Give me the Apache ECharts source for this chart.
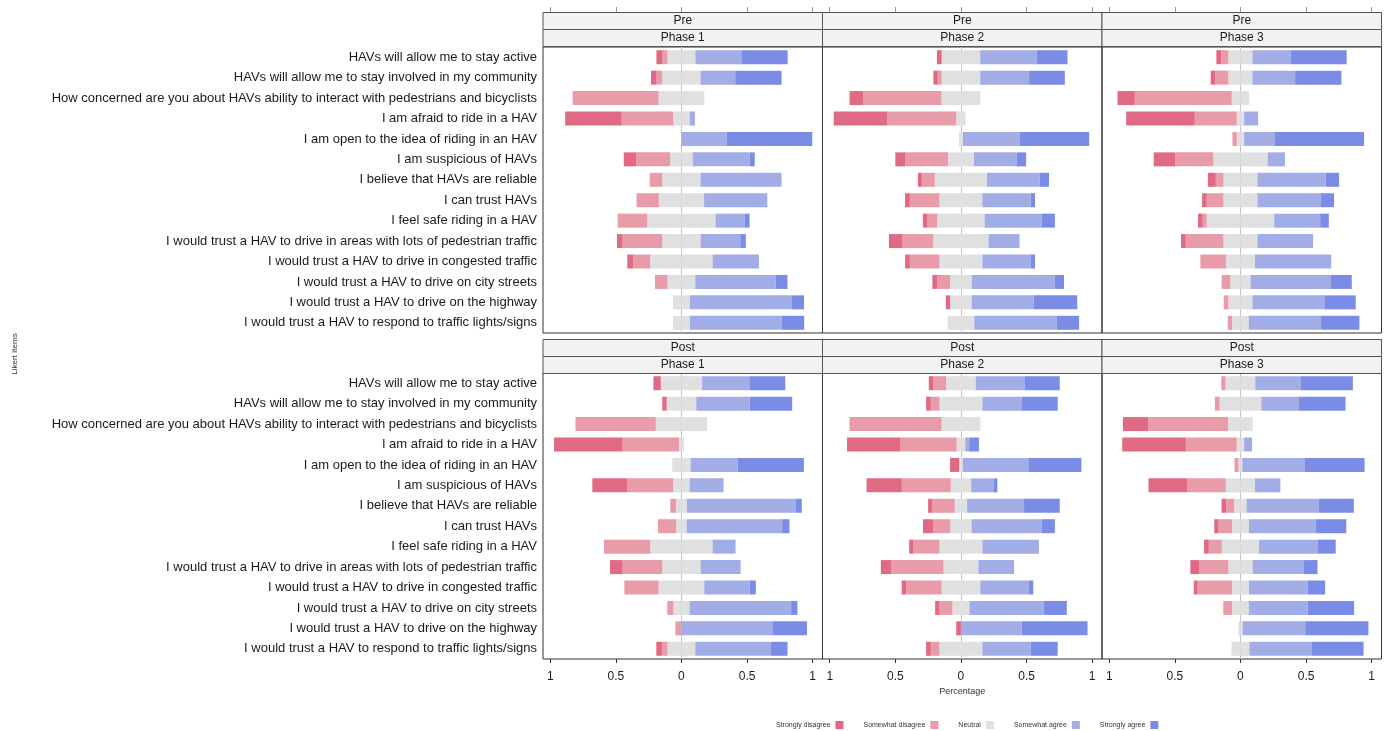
<!DOCTYPE html>
<html>
<head>
<meta charset="utf-8">
<script src="https://cdn.jsdelivr.net/npm/echarts@6/dist/echarts.min.js"></script>
<style>html,body{margin:0;padding:0;background:#fff;}#c{width:1392px;height:731px;}</style>
</head>
<body>
<div id="c"></div>
<script>
// Likert items (top to bottom)
const items = [
  "HAVs will allow me to stay active",
  "HAVs will allow me to stay involved in my community",
  "How concerned are you about HAVs ability to interact with pedestrians and bicyclists",
  "I am afraid to ride in a HAV",
  "I am open to the idea of riding in an HAV",
  "I am suspicious of HAVs",
  "I believe that HAVs are reliable",
  "I can trust HAVs",
  "I feel safe riding in a HAV",
  "I would trust a HAV to drive in areas with lots of pedestrian traffic",
  "I would trust a HAV to drive in congested traffic",
  "I would trust a HAV to drive on city streets",
  "I would trust a HAV to drive on the highway",
  "I would trust a HAV to respond to traffic lights/signs"
];
const levels = ["Strongly disagree", "Somewhat disagree", "Neutral", "Somewhat agree", "Strongly agree"];
const rowLabels = ["Pre", "Post"];
const colLabels = ["Phase 1", "Phase 2", "Phase 3"];
const tickValues = [-1, -0.5, 0, 0.5, 1];

// each row: [Strongly disagree, Somewhat disagree, Neutral, Somewhat agree, Strongly agree]
const prePhase1 = [
  [0.043,0.041,0.213,0.350,0.353],
  [0.043,0.043,0.292,0.264,0.353],
  [0,0.655,0.348,0,0],
  [0.431,0.393,0.124,0.041,0],
  [0,0,0,0.345,0.652],
  [0.094,0.259,0.173,0.434,0.038],
  [0,0.096,0.292,0.617,0],
  [0,0.170,0.345,0.482,0],
  [0,0.226,0.520,0.221,0.038],
  [0.043,0.302,0.292,0.302,0.043],
  [0.046,0.129,0.475,0.353,0],
  [0,0.096,0.211,0.612,0.091],
  [0,0,0.129,0.774,0.096],
  [0,0,0.129,0.698,0.173]
];
const prePhase2 = [
  [0.036,0,0.294,0.431,0.234],
  [0.033,0.030,0.294,0.373,0.272],
  [0.104,0.596,0.297,0,0],
  [0.406,0.528,0.071,0,0],
  [0,0,0.030,0.434,0.528],
  [0.074,0.327,0.198,0.327,0.071],
  [0.030,0.099,0.398,0.401,0.071],
  [0.036,0.226,0.327,0.368,0.033],
  [0.036,0.074,0.360,0.434,0.102],
  [0.104,0.234,0.421,0.236,0],
  [0.036,0.226,0.327,0.368,0.033],
  [0.036,0.099,0.165,0.632,0.071],
  [0.033,0,0.165,0.472,0.332],
  [0,0,0.203,0.629,0.170]
];
const prePhase3 = [
  [0.036,0.056,0.183,0.294,0.424],
  [0.036,0.099,0.183,0.325,0.353],
  [0.132,0.739,0.132,0,0],
  [0.523,0.320,0.056,0.107,0],
  [0,0.033,0.056,0.231,0.683],
  [0.165,0.289,0.414,0.132,0],
  [0.061,0.058,0.259,0.520,0.102],
  [0.036,0.127,0.259,0.480,0.104],
  [0.036,0.030,0.515,0.350,0.066],
  [0.036,0.287,0.259,0.424,0],
  [0,0.195,0.221,0.581,0],
  [0,0.066,0.155,0.609,0.162],
  [0,0.036,0.183,0.553,0.234],
  [0,0.033,0.127,0.551,0.292]
];
const postPhase1 = [
  [0.056,0,0.315,0.360,0.274],
  [0.033,0,0.226,0.406,0.325],
  [0,0.612,0.391,0,0],
  [0.523,0.429,0.038,0,0],
  [0,0,0.140,0.358,0.505],
  [0.264,0.353,0.124,0.259,0],
  [0,0.043,0.084,0.827,0.048],
  [0,0.140,0.079,0.728,0.056],
  [0,0.353,0.475,0.175,0],
  [0.096,0.302,0.292,0.305,0],
  [0,0.261,0.348,0.345,0.048],
  [0,0.046,0.124,0.774,0.048],
  [0,0.046,0,0.693,0.264],
  [0.043,0.043,0.211,0.574,0.129]
];
const postPhase2 = [
  [0.036,0.096,0.226,0.371,0.269],
  [0.036,0.066,0.327,0.297,0.277],
  [0,0.701,0.297,0,0],
  [0.404,0.431,0.066,0.030,0.074],
  [0.069,0,0.028,0.500,0.404],
  [0.269,0.373,0.155,0.170,0.030],
  [0.033,0.170,0.094,0.434,0.272],
  [0.079,0.129,0.162,0.533,0.102],
  [0.033,0.198,0.327,0.431,0],
  [0.079,0.398,0.266,0.272,0],
  [0.036,0.269,0.294,0.371,0.033],
  [0.033,0.099,0.129,0.569,0.173],
  [0.036,0,0,0.462,0.503],
  [0.036,0.066,0.327,0.368,0.206]
];
const postPhase3 = [
  [0,0.033,0.226,0.348,0.396],
  [0,0.036,0.317,0.287,0.355],
  [0.195,0.607,0.188,0,0],
  [0.485,0.388,0.056,0.061,0],
  [0,0.030,0.030,0.477,0.454],
  [0.297,0.292,0.223,0.193,0],
  [0.036,0.061,0.094,0.548,0.269],
  [0.033,0.102,0.129,0.508,0.234],
  [0.036,0.099,0.284,0.449,0.135],
  [0.066,0.223,0.185,0.391,0.104],
  [0.030,0.261,0.129,0.449,0.132],
  [0,0.066,0.129,0.449,0.353],
  [0,0,0.033,0.477,0.482],
  [0,0,0.137,0.477,0.393]
];
const panels = [[prePhase1, prePhase2, prePhase3], [postPhase1, postPhase2, postPhase3]];

// ---- styling / layout ----
const colors = {"Strongly disagree":"#E06A84","Somewhat disagree":"#E89BA9","Neutral":"#E0E0E0","Somewhat agree":"#A2ADE5","Strongly agree":"#7A8CE6"};
const FONT = '"Liberation Sans", Arial, sans-serif';
const colLeft = [543, 822.5, 1102];
const colW = 279.5;
const plotTop = [47, 373];
const plotH = 286;
const stripTop = [[12.5, 29.5], [339.5, 356.5]];
const stripH = 17;

const grids = [], xAxes = [], yAxes = [], series = [], graphic = [];
let gi = 0;
for (let r = 0; r < 2; r++) {
  for (let c = 0; c < 3; c++) {
    grids.push({left: colLeft[c], top: plotTop[r], width: colW, height: plotH, show: true,
      borderColor: '#333', borderWidth: 1, backgroundColor: 'transparent', containLabel: false});
    const xi = xAxes.length;
    xAxes.push({type: 'value', gridIndex: gi, position: 'bottom', min: -1.055, max: 1.075,
      axisLine: {show: false}, splitLine: {show: false},
      axisTick: {show: r === 1, customValues: tickValues, length: 4, lineStyle: {color: '#333'}},
      axisLabel: {show: r === 1, customValues: tickValues, formatter: v => String(Math.abs(v)),
        fontSize: 12, color: '#1a1a1a', fontFamily: FONT, margin: 12},
      name: (r === 1 && c === 1) ? 'Percentage' : '', nameLocation: 'middle', nameGap: 28,
      nameTextStyle: {fontSize: 9, color: '#333', fontFamily: FONT}
    });
    if (r === 0) {
      xAxes.push({type: 'value', gridIndex: gi, position: 'top', offset: 35, min: -1.055, max: 1.075,
        axisLine: {show: false}, splitLine: {show: false},
        axisTick: {show: true, customValues: tickValues, length: 5, lineStyle: {color: '#999'}},
        axisLabel: {show: false}});
    }
    const yi = yAxes.length;
    yAxes.push({type: 'category', gridIndex: gi, data: items, inverse: true,
      axisLine: {show: false}, axisTick: {show: false}, splitLine: {show: false},
      axisLabel: {show: c === 0, fontSize: 13, color: '#1a1a1a', fontFamily: FONT, margin: 6}
    });
    const d = panels[r][c];
    const stack = 'g' + gi;
    const mk = (name, vals, withLine) => {
      const s = {type: 'bar', name: name, xAxisIndex: xi, yAxisIndex: yi, stack: stack,
        barWidth: 14, data: vals, z: 3,
        itemStyle: {color: colors[name], borderWidth: 0},
        emphasis: {disabled: true}};
      if (withLine) {
        s.markLine = {silent: true, symbol: 'none', z: 1, label: {show: false},
          lineStyle: {color: '#c4c4c4', width: 1, type: 'solid'}, data: [{xAxis: 0}]};
      }
      series.push(s);
    };
    // negative side: neutral half, somewhat disagree, strongly disagree
    mk('Neutral', d.map(v => -v[2] / 2), true);
    mk('Somewhat disagree', d.map(v => -v[1]));
    mk('Strongly disagree', d.map(v => -v[0]));
    // positive side
    mk('Neutral', d.map(v => v[2] / 2));
    mk('Somewhat agree', d.map(v => v[3]));
    mk('Strongly agree', d.map(v => v[4]));

    // facet strips
    const labels = [rowLabels[r], colLabels[c]];
    for (let k = 0; k < 2; k++) {
      graphic.push({type: 'rect', z: 10, shape: {x: colLeft[c], y: stripTop[r][k], width: colW, height: stripH},
        style: {fill: '#F2F2F2', stroke: '#555', lineWidth: 1}});
      graphic.push({type: 'text', z: 11, x: colLeft[c] + colW / 2, y: stripTop[r][k] + stripH / 2,
        style: {text: labels[k], textAlign: 'center', textVerticalAlign: 'middle',
          font: '12px ' + FONT, fill: '#1a1a1a'}});
    }
    gi++;
  }
}
graphic.push({type: 'text', x: 15, y: 354, rotation: Math.PI / 2,
  style: {text: 'Likert Items', textAlign: 'center', textVerticalAlign: 'middle', font: '8px ' + FONT, fill: '#333'}});

const chart = echarts.init(document.getElementById('c'), null, {renderer: 'canvas'});
chart.setOption({
  animation: false,
  backgroundColor: '#fff',
  grid: grids, xAxis: xAxes, yAxis: yAxes, series: series, graphic: graphic,
  legend: {data: levels, left: 771, top: 716, align: 'right', icon: 'rect', itemWidth: 8, itemHeight: 8,
    itemGap: 20, selectedMode: false, textStyle: {fontSize: 7, color: '#333', fontFamily: FONT}}
});
</script>
</body>
</html>
